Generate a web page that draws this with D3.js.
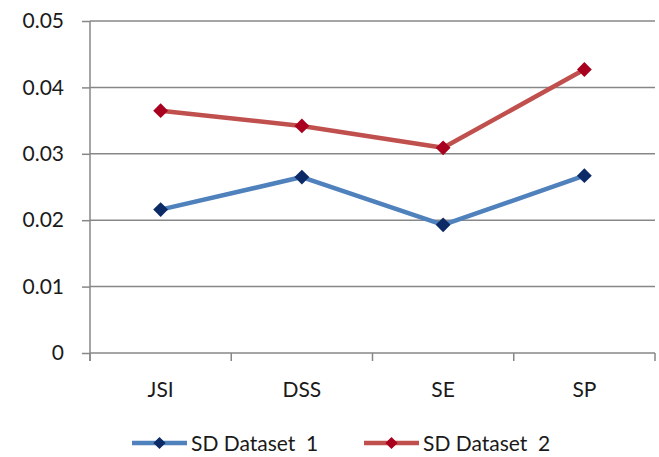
<!DOCTYPE html>
<html>
<head>
<meta charset="utf-8">
<script src="https://cdn.jsdelivr.net/npm/d3@7"></script>
<style>
  body { margin: 0; background: #fff; }
  svg { display: block; }
  text { font-family: Lato, "Open Sans", sans-serif; fill: #1a1a1a; }
</style>
</head>
<body>
<svg id="chart" width="659" height="457"></svg>
<script>
const categories = ["JSI", "DSS", "SE", "SP"];
const series1 = [0.0216, 0.0265, 0.0193, 0.0267];
const series2 = [0.0365, 0.0342, 0.0309, 0.0427];
const seriesNames = ["SD Dataset  1", "SD Dataset  2"];
const yTicks = [0, 0.01, 0.02, 0.03, 0.04, 0.05];

const lineColors = ["#4F81BD", "#C0504D"];
const markerColors = ["#0B2A66", "#A8001E"];

(function () {
const svg = d3.select("#chart");
const pLeft = 90, pRight = 655, pTop = 21, pBottom = 353;

const x = d3.scaleBand().domain(categories).range([pLeft, pRight]);
const y = d3.scaleLinear().domain([0, 0.05]).range([pBottom, pTop]);

const gridColor = "#878787";

// gridlines
svg.append("g").selectAll("line").data(yTicks).join("line")
  .attr("x1", pLeft).attr("x2", pRight)
  .attr("y1", d => y(d)).attr("y2", d => y(d))
  .attr("stroke", gridColor).attr("stroke-width", 1.5);

// y axis
const yAxis = svg.append("g").attr("transform", `translate(${pLeft},0)`)
  .call(d3.axisLeft(y).tickValues(yTicks).tickSize(8).tickPadding(18)
    .tickFormat(d => d === 0 ? "0" : d3.format(".2f")(d)));
yAxis.select(".domain").remove();
yAxis.selectAll(".tick line").attr("stroke", gridColor).attr("stroke-width", 1.5);
yAxis.selectAll(".tick text").style("font-size", "21px").attr("fill", "#1a1a1a");
svg.append("line").attr("x1", pLeft).attr("x2", pLeft).attr("y1", pTop).attr("y2", pBottom + 8)
  .attr("stroke", gridColor).attr("stroke-width", 1.5);

// x axis
const xAxis = svg.append("g").attr("transform", `translate(0,${pBottom})`)
  .call(d3.axisBottom(x).tickSize(0).tickPadding(29));
xAxis.select(".domain").remove();
xAxis.selectAll(".tick text").style("font-size", "21px").attr("fill", "#1a1a1a");
const bounds = categories.map(c => x(c)).concat([x.range()[1]]);
svg.append("g").selectAll("line").data(bounds).join("line")
  .attr("x1", d => d).attr("x2", d => d).attr("y1", pBottom).attr("y2", pBottom + 8)
  .attr("stroke", gridColor).attr("stroke-width", 1.5);

const cx = c => x(c) + x.bandwidth() / 2;
const diamond = d3.symbol().type(d3.symbolDiamond2).size(140);
const legendDiamond = d3.symbol().type(d3.symbolDiamond2).size(95);

[series1, series2].forEach((vals, i) => {
  const line = d3.line().x((d, j) => cx(categories[j])).y(d => y(d));
  svg.append("path").datum(vals).attr("d", line)
    .attr("fill", "none").attr("stroke", lineColors[i]).attr("stroke-width", 4.5)
    .attr("stroke-linejoin", "round");
  svg.append("g").selectAll("path").data(vals).join("path")
    .attr("d", diamond)
    .attr("transform", (d, j) => `translate(${cx(categories[j])},${y(d)})`)
    .attr("fill", markerColors[i]);
});

// legend
const legendY = 443;
const legendX = [132, 364];
seriesNames.forEach((name, i) => {
  const g = svg.append("g").attr("transform", `translate(${legendX[i]},${legendY})`);
  g.append("line").attr("x1", 0).attr("x2", 55).attr("y1", 0).attr("y2", 0)
    .attr("stroke", lineColors[i]).attr("stroke-width", 4.5);
  g.append("path").attr("d", legendDiamond).attr("transform", "translate(27.5,0)").attr("fill", markerColors[i]);
  g.append("text").attr("x", 59).attr("y", 8).style("font-size", "21px")
    .style("white-space", "pre").text(name);
});
})();
</script>
</body>
</html>
